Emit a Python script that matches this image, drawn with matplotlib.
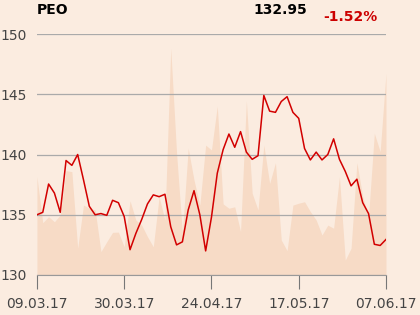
import matplotlib.pyplot as plt

# dates (tick labels) and daily values
tick_labels = ["09.03.17", "30.03.17", "24.04.17", "17.05.17", "07.06.17"]
tick_idx = [0, 15, 30, 45, 60]

price = [135.0, 135.2, 137.55, 136.8, 135.2, 139.5, 139.1, 140.0, 137.9, 135.7,
         135.0, 135.1, 134.95, 136.2, 136.0, 134.85, 132.1, 133.45, 134.6, 135.9,
         136.65, 136.5, 136.7, 134.0, 132.5, 132.75, 135.4, 137.0, 135.0, 132.0,
         134.8, 138.45, 140.4, 141.7, 140.6, 141.9, 140.2, 139.6, 139.9, 144.9,
         143.6, 143.5, 144.4, 144.8, 143.5, 143.0, 140.5, 139.55, 140.2, 139.55,
         140.0, 141.3, 139.6, 138.6, 137.4, 137.95, 136.0, 135.1, 132.55, 132.45,
         132.95]

# volume, relative units (100 = full plot height)
volume = [40.8, 21.7, 24.2, 22.1, 24.9, 43.3, 42.9, 11.1, 29.0, 27.7,
          27.0, 9.7, 13.8, 17.7, 17.8, 11.7, 30.8, 22.8, 20.7, 15.9,
          11.7, 32.5, 22.8, 94.1, 50.6, 17.4, 52.6, 39.4, 29.0, 53.9,
          51.9, 70.1, 29.5, 27.7, 28.3, 18.0, 72.3, 33.9, 27.0, 53.9,
          38.0, 46.6, 14.5, 10.1, 29.0, 29.8, 30.4, 26.3, 22.8, 16.6,
          20.7, 19.4, 40.8, 6.2, 11.1, 46.6, 32.5, 24.2, 58.8, 51.2,
          83.7]

bg = "#fbece0"
fig = plt.figure(figsize=(4.2, 3.15), dpi=100, facecolor=bg)
ax = fig.add_axes([0.088, 0.127, 0.831, 0.765])
ax.set_facecolor(bg)

x = list(range(len(price)))

# volume area on its own scale
axv = ax.twinx()
axv.fill_between(x, 0, volume, color="#f7dbc6", linewidth=0)
axv.set_ylim(0, 100)
axv.axis("off")
ax.set_zorder(axv.get_zorder() + 1)
ax.patch.set_visible(False)
axv.patch.set_visible(False)

ax.plot(x, price, color="#d20000", linewidth=1.1)

ax.set_xlim(0, 60)
ax.set_ylim(130, 150)
ax.set_yticks([130, 135, 140, 145, 150])
ax.set_xticks(tick_idx)
ax.set_xticklabels(tick_labels)
ax.grid(axis="y", color="#aaaaaa", linewidth=0.9)
ax.set_axisbelow(True)
for s in ["top", "right", "left"]:
    ax.spines[s].set_visible(False)
ax.spines["bottom"].set_color("#999999")
ax.tick_params(axis="y", length=0, pad=7, labelsize=10, labelcolor="#444444")
ax.tick_params(axis="x", length=10, color="#777777", pad=6, labelsize=10,
               labelcolor="#444444")

fig.text(37 / 420, 1 - 10 / 315, "PEO", fontsize=10, fontweight="bold",
         va="center", ha="left", color="black")
fig.text(307 / 420, 1 - 10 / 315, "132.95", fontsize=10, fontweight="bold",
         va="center", ha="right", color="black")
fig.text(378 / 420, 1 - 17 / 315, "-1.52%", fontsize=10, fontweight="bold",
         va="center", ha="right", color="#cc0000")

fig.savefig("out.png", facecolor=bg)
